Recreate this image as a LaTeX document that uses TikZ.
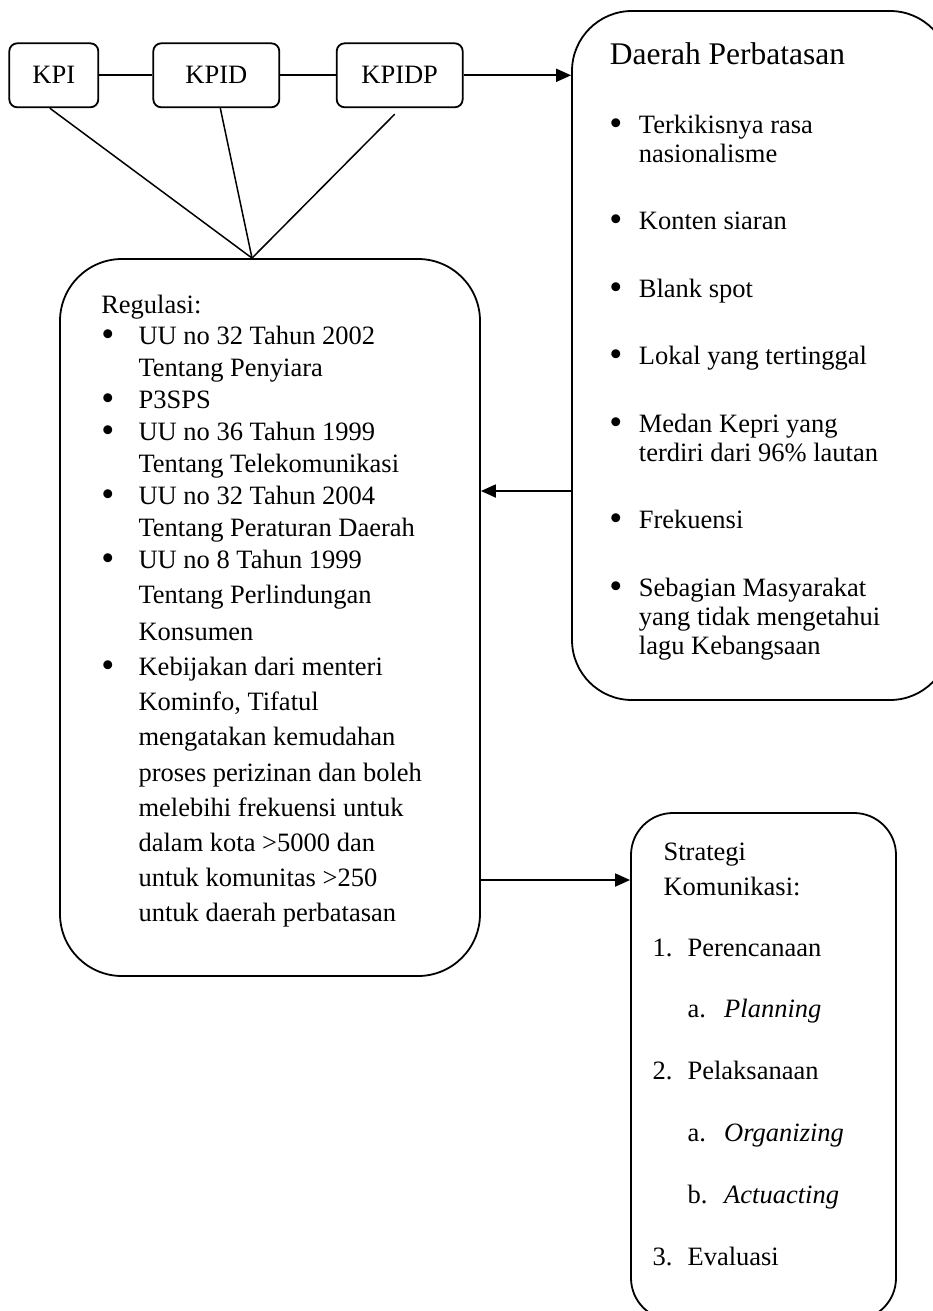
\documentclass[tikz,border=0pt]{standalone}
\usepackage{fontspec}
\setmainfont{Liberation Serif}
\usetikzlibrary{arrows.meta,positioning}
\newcommand{\blt}[1]{\makebox[#1][l]{\smash{\raisebox{-2pt}{\scalebox{1.4}{\textbullet}}}}}
\newcommand{\skipin}[1]{\hspace*{#1}}

\begin{document}
\begin{tikzpicture}[x=1pt, y=-1pt, line width=1.8pt,
  smallbox/.style={draw, rounded corners=8pt, minimum width=126pt, minimum height=64pt, inner sep=0pt, font=\fontsize{26.5}{29}\selectfont},
  bigbox/.style={draw, rounded corners=#1, inner sep=0pt},
  txt/.style={anchor=base west, inner sep=0pt, align=left, font=\fontsize{26.5}{#1}\selectfont},
  arr/.style={-{Triangle[length=15pt,width=13pt]}},
  fan/.style={line width=1.5pt}]
  \useasboundingbox (0,0) rectangle (932,1311);

  % top row
  \node[smallbox, minimum width=89pt] (kpi) at (53.8,75.3) {KPI};
  \node[smallbox] (kpid) at (216.3,75.3) {KPID};
  \node[smallbox] (kpidp) at (399.7,75.3) {KPIDP};

  % big boxes
  \node[bigbox=60pt, minimum width=378pt, minimum height=689pt] (daerah) at (761,355.5) {};
  \node[bigbox=62pt, minimum width=420pt, minimum height=717pt] (reg) at (270,617.5) {};
  \node[bigbox=42pt, minimum width=265pt, minimum height=507pt] (strat) at (763.5,1066.5) {};

  % connectors
  \draw (kpi) -- (kpid);
  \draw (kpid) -- (kpidp);
  \draw[arr] (kpidp) -- (kpidp -| daerah.west);
  \coordinate (meet) at ([xshift=-18pt]reg.north);
  \draw[fan] ([xshift=-4pt]kpi.south) -- (meet);
  \draw[fan] ([xshift=4pt]kpid.south) -- (meet);
  \draw[fan] ([xshift=-5pt,yshift=-6pt]kpidp.south) -- (meet);
  \draw[arr] (daerah.west |- 0,491) -- (reg.east |- 0,491);
  \draw[arr] (reg.east |- 0,880) -- (strat.west |- 0,880);

  % Daerah Perbatasan (text nodes placed by their last baseline)
  \node[txt=34, font=\fontsize{31.5}{34}\selectfont] (dtitle) at (609,65) {Daerah Perbatasan};
  \node[txt=29] (dlist) at (608.4,654) {\blt{29.6pt}Terkikisnya rasa\\ \skipin{29.6pt}nasionalisme\\[38.5pt]
    \blt{29.6pt}Konten siaran\\[38.5pt]
    \blt{29.6pt}Blank spot\\[38.5pt]
    \blt{29.6pt}Lokal yang tertinggal\\[38.5pt]
    \blt{29.6pt}Medan Kepri yang\\ \skipin{29.6pt}terdiri dari 96\% lautan\\[38.5pt]
    \blt{29.6pt}Frekuensi\\[38.5pt]
    \blt{29.6pt}Sebagian Masyarakat\\ \skipin{29.6pt}yang tidak mengetahui\\ \skipin{29.6pt}lagu Kebangsaan};

  % Regulasi
  \node[txt=31.9] (regtop) at (100.4,568.2) {Regulasi:\\
    \blt{37.3pt}UU no 32 Tahun 2002\\ \skipin{37.3pt}Tentang Penyiara\\
    \blt{37.3pt}P3SPS\\
    \blt{37.3pt}UU no 36 Tahun 1999\\ \skipin{37.3pt}Tentang Telekomunikasi\\
    \blt{37.3pt}UU no 32 Tahun 2004\\ \skipin{37.3pt}Tentang Peraturan Daerah\\
    \blt{37.3pt}UU no 8 Tahun 1999};
  \node[txt=35.2] (reglist) at (100.4,921.8) {\skipin{37.3pt}Tentang Perlindungan\\[2pt]
    \skipin{37.3pt}Konsumen\\
    \blt{37.3pt}Kebijakan dari menteri\\ \skipin{37.3pt}Kominfo, Tifatul\\
    \skipin{37.3pt}mengatakan kemudahan\\ \skipin{37.3pt}proses perizinan dan boleh\\
    \skipin{37.3pt}melebihi frekuensi untuk\\ \skipin{37.3pt}dalam kota >5000 dan\\
    \skipin{37.3pt}untuk komunitas >250\\ \skipin{37.3pt}untuk daerah perbatasan};

  % Strategi Komunikasi
  \node[txt=35] (sttitle) at (662.7,895) {Strategi\\ Komunikasi:};
  \node[txt=61.8] (stlist) at (651.7,1265) {\makebox[35pt][l]{1.}Perencanaan\\
    \skipin{35pt}\makebox[36.6pt][l]{a.}\textit{Planning}\\
    \makebox[35pt][l]{2.}Pelaksanaan\\
    \skipin{35pt}\makebox[36.6pt][l]{a.}\textit{Organizing}\\
    \skipin{35pt}\makebox[36.6pt][l]{b.}\textit{Actuacting}\\
    \makebox[35pt][l]{3.}Evaluasi};
\end{tikzpicture}
\end{document}
